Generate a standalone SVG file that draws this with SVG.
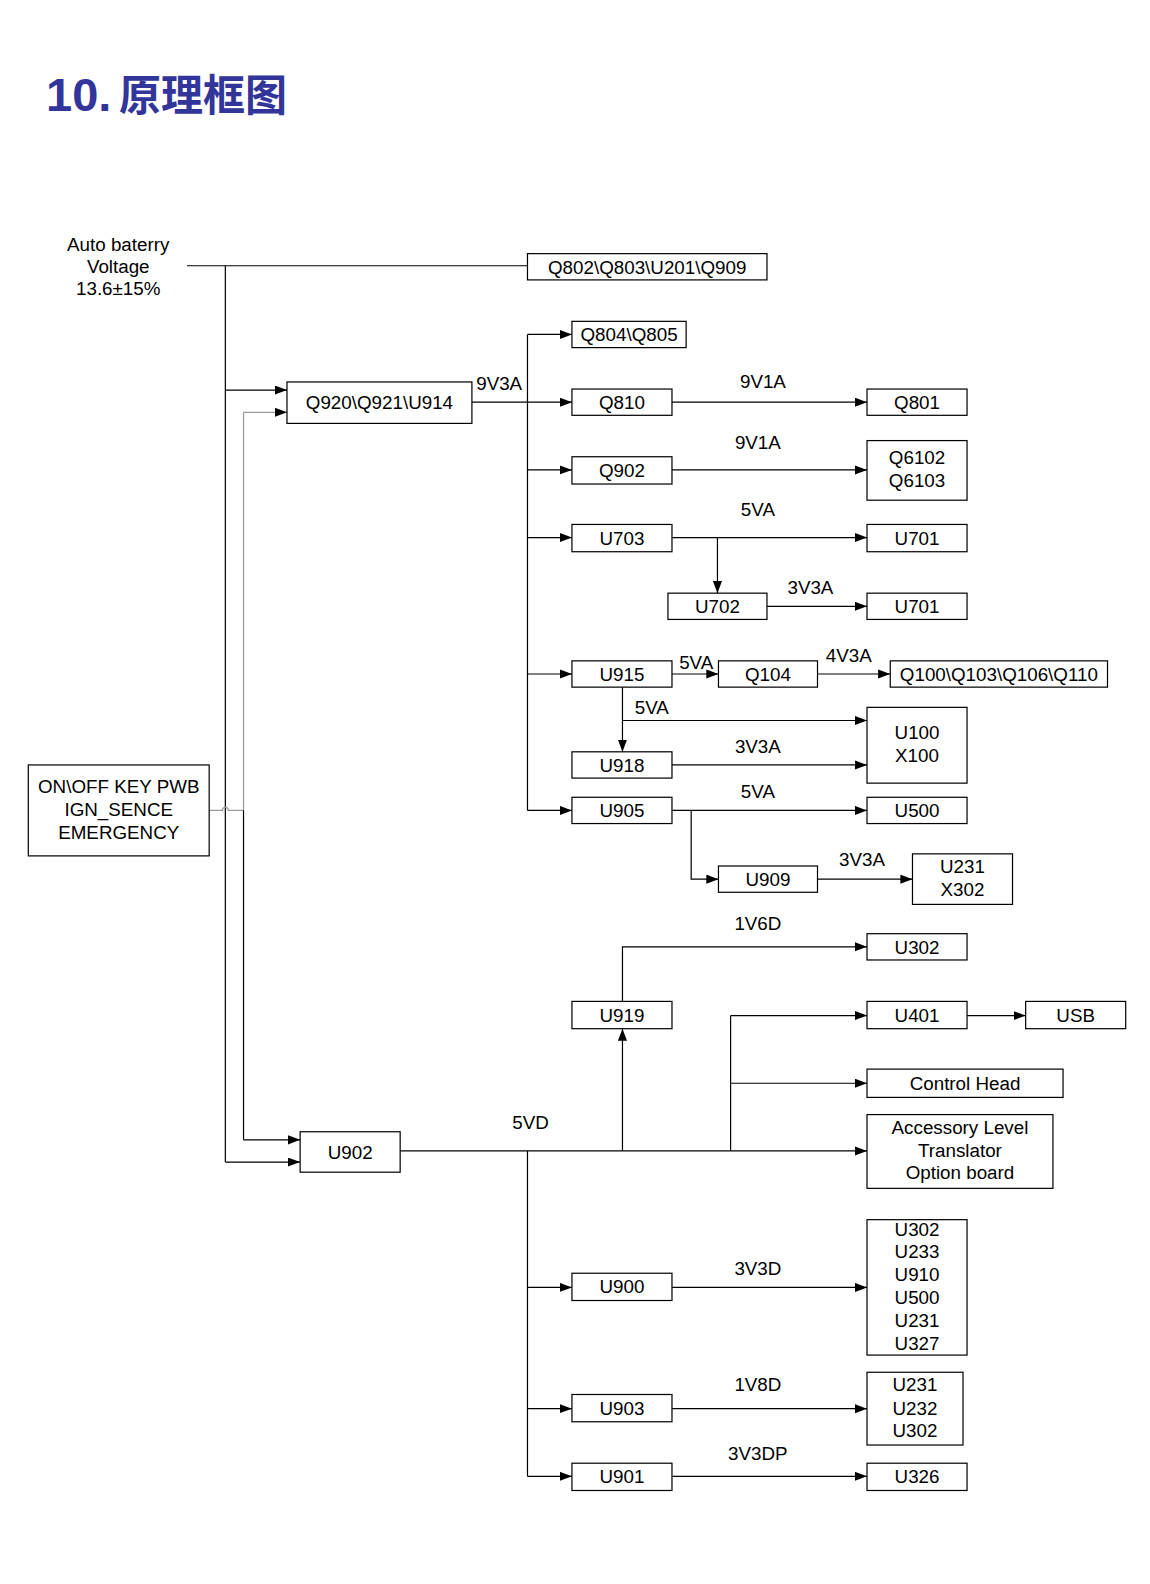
<svg xmlns="http://www.w3.org/2000/svg" width="1150" height="1584" viewBox="0 0 1150 1584">
<defs>
<marker id="ah" markerUnits="userSpaceOnUse" markerWidth="13" markerHeight="10" refX="12" refY="4.5" orient="auto">
<path d="M0,0 L12,4.5 L0,9 z" fill="#000"/>
</marker>
<marker id="ahg" markerUnits="userSpaceOnUse" markerWidth="13" markerHeight="10" refX="12" refY="4.5" orient="auto">
<path d="M0,0 L12,4.5 L0,9 z" fill="#000"/>
</marker>
</defs>
<style>
.b{fill:#fff;stroke:#000;stroke-width:1.2}
.t{font-family:"Liberation Sans",Arial,sans-serif;font-size:18.6px;fill:#000;text-anchor:middle}
.l{fill:none;stroke:#000;stroke-width:1.2}
.a{fill:none;stroke:#000;stroke-width:1.2;marker-end:url(#ah)}
.g{fill:none;stroke:#9a9a9a;stroke-width:1.2}
</style>
<rect width="1150" height="1584" fill="#fff"/>
<g id="title">
<text x="46" y="111" font-family="Liberation Sans,Arial,sans-serif" font-weight="bold" font-size="47" fill="#32359a">10.</text>
<text x="119" y="111" font-family="Noto Sans CJK SC,sans-serif" font-weight="bold" font-size="43" fill="#32359a" textLength="168" lengthAdjust="spacingAndGlyphs">原理框图</text>
</g>
<g transform="scale(1.0105)">
<g id="connectors">
<path class="l" d="M185,263 H522"/>
<path class="l" d="M223,263 V1150"/>
<path class="a" d="M223,386 H284"/>
<path class="a" d="M223,1150 H297"/>
<path class="g" d="M207,802 H220 A3,3 0 0 1 226,802 H241 V408"/>
<path class="a" d="M241,408 H284" style="stroke:#9a9a9a"/>
<path class="l" d="M241,802 V1128"/>
<path class="a" d="M241,1128 H297"/>
<path class="a" d="M467,398 H566"/>
<path class="l" d="M522,331 V802"/>
<path class="a" d="M522,331 H566"/>
<path class="a" d="M522,465 H566"/>
<path class="a" d="M522,532 H566"/>
<path class="a" d="M522,667 H566"/>
<path class="a" d="M522,802 H566"/>
<path class="a" d="M665,398 H858"/>
<path class="a" d="M665,465 H858"/>
<path class="a" d="M665,532 H858"/>
<path class="a" d="M710,532 V587"/>
<path class="a" d="M759,600 H858"/>
<path class="a" d="M665,667 H711"/>
<path class="a" d="M809,667 H881"/>
<path class="a" d="M616,680 V744"/>
<path class="a" d="M616,713 H858"/>
<path class="a" d="M665,757 H858"/>
<path class="a" d="M665,802 H858"/>
<path class="a" d="M684,802 V870 H711"/>
<path class="a" d="M809,870 H903"/>
<path class="a" d="M616,991 V937 H858"/>
<path class="a" d="M396,1139 H858"/>
<path class="a" d="M616,1139 V1018"/>
<path class="l" d="M723,1139 V1005"/>
<path class="a" d="M723,1005 H858"/>
<path class="a" d="M723,1072 H858"/>
<path class="a" d="M957,1005 H1015"/>
<path class="l" d="M522,1139 V1461"/>
<path class="a" d="M522,1274 H566"/>
<path class="a" d="M522,1394 H566"/>
<path class="a" d="M522,1461 H566"/>
<path class="a" d="M665,1274 H858"/>
<path class="a" d="M665,1394 H858"/>
<path class="a" d="M665,1461 H858"/>
</g>
<g id="labels" class="t">
<text class="t" x="117" y="248">Auto baterry</text>
<text class="t" x="117" y="270">Voltage</text>
<text class="t" x="117" y="292">13.6±15%</text>
<text class="t" x="494" y="386">9V3A</text>
<text class="t" x="755" y="384">9V1A</text>
<text class="t" x="750" y="444">9V1A</text>
<text class="t" x="750" y="511">5VA</text>
<text class="t" x="802" y="588">3V3A</text>
<text class="t" x="689" y="662">5VA</text>
<text class="t" x="840" y="655">4V3A</text>
<text class="t" x="645" y="707">5VA</text>
<text class="t" x="750" y="745">3V3A</text>
<text class="t" x="750" y="790">5VA</text>
<text class="t" x="853" y="857">3V3A</text>
<text class="t" x="750" y="920">1V6D</text>
<text class="t" x="525" y="1117">5VD</text>
<text class="t" x="750" y="1262">3V3D</text>
<text class="t" x="750" y="1377">1V8D</text>
<text class="t" x="750" y="1445">3V3DP</text>
</g>
<g id="n_onoff"><rect class="b" x="28" y="757" width="179" height="90"/><text class="t" x="117.5" y="785">ON\OFF KEY PWB</text><text class="t" x="117.5" y="807.5">IGN_SENCE</text><text class="t" x="117.5" y="830">EMERGENCY</text></g>
<g id="n_q802"><rect class="b" x="522" y="251" width="237" height="26"/><text class="t" x="640.5" y="270.7">Q802\Q803\U201\Q909</text></g>
<g id="n_q804"><rect class="b" x="566" y="318" width="113" height="26"/><text class="t" x="622.5" y="337.7">Q804\Q805</text></g>
<g id="n_q920"><rect class="b" x="284" y="378" width="183" height="41"/><text class="t" x="375.5" y="405">Q920\Q921\U914</text></g>
<g id="n_q810"><rect class="b" x="566" y="385" width="99" height="26"/><text class="t" x="615.5" y="404.7">Q810</text></g>
<g id="n_q801"><rect class="b" x="858" y="385" width="99" height="26"/><text class="t" x="907.5" y="404.7">Q801</text></g>
<g id="n_q902"><rect class="b" x="566" y="452" width="99" height="27"/><text class="t" x="615.5" y="472">Q902</text></g>
<g id="n_q6102"><rect class="b" x="858" y="436" width="99" height="59"/><text class="t" x="907.5" y="459">Q6102</text><text class="t" x="907.5" y="482">Q6103</text></g>
<g id="n_u703"><rect class="b" x="566" y="519" width="99" height="27"/><text class="t" x="615.5" y="539">U703</text></g>
<g id="n_u701a"><rect class="b" x="858" y="519" width="99" height="27"/><text class="t" x="907.5" y="539">U701</text></g>
<g id="n_u702"><rect class="b" x="661" y="587" width="98" height="26"/><text class="t" x="710" y="606.7">U702</text></g>
<g id="n_u701b"><rect class="b" x="858" y="587" width="99" height="26"/><text class="t" x="907.5" y="606.7">U701</text></g>
<g id="n_u915"><rect class="b" x="566" y="654" width="99" height="26"/><text class="t" x="615.5" y="673.7">U915</text></g>
<g id="n_q104"><rect class="b" x="711" y="654" width="98" height="26"/><text class="t" x="760" y="673.7">Q104</text></g>
<g id="n_q100"><rect class="b" x="881" y="654" width="215" height="26"/><text class="t" x="988.5" y="673.7">Q100\Q103\Q106\Q110</text></g>
<g id="n_u100"><rect class="b" x="858" y="700" width="99" height="75"/><text class="t" x="907.5" y="731">U100</text><text class="t" x="907.5" y="754">X100</text></g>
<g id="n_u918"><rect class="b" x="566" y="744" width="99" height="26"/><text class="t" x="615.5" y="763.7">U918</text></g>
<g id="n_u905"><rect class="b" x="566" y="789" width="99" height="26"/><text class="t" x="615.5" y="808.7">U905</text></g>
<g id="n_u500"><rect class="b" x="858" y="789" width="99" height="26"/><text class="t" x="907.5" y="808.7">U500</text></g>
<g id="n_u909"><rect class="b" x="711" y="857" width="98" height="26"/><text class="t" x="760" y="876.7">U909</text></g>
<g id="n_u231"><rect class="b" x="903" y="845" width="99" height="50"/><text class="t" x="952.5" y="864">U231</text><text class="t" x="952.5" y="887">X302</text></g>
<g id="n_u302a"><rect class="b" x="858" y="924" width="99" height="26"/><text class="t" x="907.5" y="943.7">U302</text></g>
<g id="n_u919"><rect class="b" x="566" y="991" width="99" height="27"/><text class="t" x="615.5" y="1011">U919</text></g>
<g id="n_u401"><rect class="b" x="858" y="991" width="99" height="27"/><text class="t" x="907.5" y="1011">U401</text></g>
<g id="n_usb"><rect class="b" x="1015" y="991" width="99" height="27"/><text class="t" x="1064.5" y="1011">USB</text></g>
<g id="n_ctrl"><rect class="b" x="858" y="1058" width="194" height="28"/><text class="t" x="955" y="1078.7">Control Head</text></g>
<g id="n_u902"><rect class="b" x="297" y="1120" width="99" height="40"/><text class="t" x="346.5" y="1146.7">U902</text></g>
<g id="n_acc"><rect class="b" x="858" y="1103" width="184" height="73"/><text class="t" x="950" y="1122">Accessory Level</text><text class="t" x="950" y="1145">Translator</text><text class="t" x="950" y="1167">Option board</text></g>
<g id="n_u900"><rect class="b" x="566" y="1260" width="99" height="27"/><text class="t" x="615.5" y="1280">U900</text></g>
<g id="n_u302b"><rect class="b" x="858" y="1207" width="99" height="134"/><text class="t" x="907.5" y="1223">U302</text><text class="t" x="907.5" y="1245">U233</text><text class="t" x="907.5" y="1268">U910</text><text class="t" x="907.5" y="1290">U500</text><text class="t" x="907.5" y="1313">U231</text><text class="t" x="907.5" y="1336">U327</text></g>
<g id="n_u903"><rect class="b" x="566" y="1380" width="99" height="27"/><text class="t" x="615.5" y="1400">U903</text></g>
<g id="n_u231b"><rect class="b" x="858" y="1358" width="95" height="72"/><text class="t" x="905.5" y="1377">U231</text><text class="t" x="905.5" y="1400">U232</text><text class="t" x="905.5" y="1422">U302</text></g>
<g id="n_u901"><rect class="b" x="566" y="1448" width="99" height="27"/><text class="t" x="615.5" y="1468">U901</text></g>
<g id="n_u326"><rect class="b" x="858" y="1448" width="99" height="27"/><text class="t" x="907.5" y="1468">U326</text></g>
</g>
</svg>
